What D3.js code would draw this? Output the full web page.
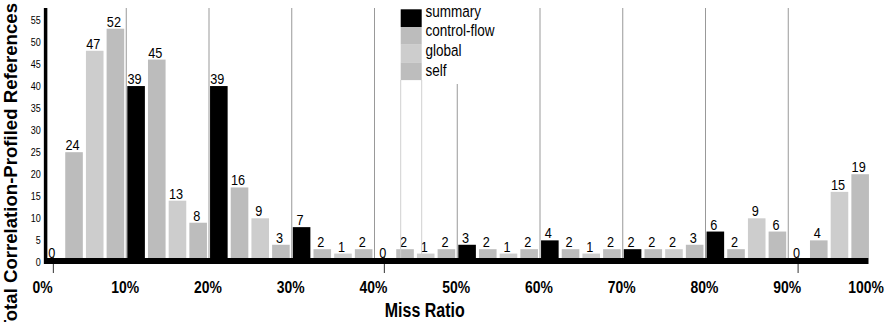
<!DOCTYPE html>
<html>
<head>
<meta charset="utf-8">
<script src="https://cdn.jsdelivr.net/npm/d3@7/dist/d3.min.js"></script>
<style>
    body { margin: 0; background: #fff; }
    svg { display: block; }
    text { font-family: "Liberation Sans", Arial, sans-serif; }
</style>
</head>
<body>
<div id="chart"></div>
<script>
// bins of miss ratio, one group of four bars each
var bins = ["0-10", "10-20", "20-30", "30-40", "40-50", "50-60", "60-70", "70-80", "80-90", "90-100"];
var series = ["summary", "control-flow", "global", "self"];
var colors = ["#000000", "#bcbcbc", "#cdcdcd", "#bdbdbd"];

var summary     = [0, 39, 39, 7, 0, 3, 4, 2, 6, 0];
var controlFlow = [24, 45, 16, 2, 2, 2, 2, 2, 2, 4];
var global      = [47, 13, 9, 1, 1, 1, 1, 2, 9, 15];
var self        = [52, 8, 3, 2, 2, 2, 2, 3, 6, 19];

var xTicks = [0, 10, 20, 30, 40, 50, 60, 70, 80, 90, 100];
var yTicks = [0, 5, 10, 15, 20, 25, 30, 35, 40, 45, 50, 55];

var width = 887, height = 322;
var narrow = 0.82; // no narrow font installed, squeeze Liberation Sans instead
var values = [summary, controlFlow, global, self];

var svg = d3.select("#chart").append("svg")
    .attr("width", width)
    .attr("height", height);

// place a squeezed text at x, y
function narrowAt(sel, fx, fy) {
    sel.attr("transform", (d, i) => "translate(" + fx(d, i) + "," + fy(d, i) + ") scale(" + narrow + ",1)");
}

// scales
var x0 = d3.scaleBand().domain(bins).range([43, 870.5]);
var x1 = d3.scaleBand().domain(series).range([0, x0.bandwidth()])
    .paddingInner(0.15).paddingOuter(0.075);
var xPct = d3.scaleLinear().domain([0, 100]).range([43, 870.5]);
var y = d3.scaleLinear().domain([0, 55]).range([258, 15.5]);

// group separators
svg.append("g").selectAll("line")
    .data(bins.slice(1))
    .enter().append("line")
    .attr("x1", (d) => x0(d) + 0.5)
    .attr("x2", (d) => x0(d) + 0.5)
    .attr("y1", 8)
    .attr("y2", 258)
    .attr("stroke", "#999")
    .attr("stroke-width", 1);

// bars
var rows = [];
bins.forEach((b, i) => {
    series.forEach((s, j) => {
        rows.push({ bin: b, key: s, value: values[j][i], color: colors[j] });
    });
});

var bars = svg.append("g");
bars.selectAll("rect")
    .data(rows)
    .enter().append("rect")
    .attr("x", (d) => x0(d.bin) + x1(d.key))
    .attr("y", (d) => y(d.value))
    .attr("width", x1.bandwidth())
    .attr("height", (d) => y(0) - y(d.value))
    .attr("fill", (d) => d.color);

// value labels
bars.selectAll("text")
    .data(rows)
    .enter().append("text")
    .attr("text-anchor", "middle")
    .attr("font-size", 15.5)
    .attr("fill", "#000")
    .text((d) => d.value)
    .call(narrowAt,
        (d) => x0(d.bin) + x1(d.key) + x1.bandwidth() / 2 - 1.5,
        (d) => d.value == 0 ? y(0) : y(d.value) - 2);

// little marks under empty bars
svg.append("g").selectAll("line")
    .data(rows.filter((d) => d.value == 0))
    .enter().append("line")
    .attr("x1", (d) => x0(d.bin) + x1(d.key) + x1.bandwidth() / 2)
    .attr("x2", (d) => x0(d.bin) + x1(d.key) + x1.bandwidth() / 2)
    .attr("y1", 256)
    .attr("y2", 273)
    .attr("stroke", "#333")
    .attr("stroke-width", 1);

// legend
var legend = svg.append("g");
legend.append("rect")
    .attr("x", 398).attr("y", 0)
    .attr("width", 64).attr("height", 84)
    .attr("fill", "#fff");
legend.selectAll("line")
    .data([400.7, 421.7])
    .enter().append("line")
    .attr("x1", (d) => d).attr("x2", (d) => d)
    .attr("y1", 80).attr("y2", 258)
    .attr("stroke", "#d0d0d0");
legend.selectAll("rect.sw")
    .data(series)
    .enter().append("rect")
    .attr("class", "sw")
    .attr("x", 400.7)
    .attr("y", (d, i) => 9.3 + i * 17.7)
    .attr("width", 21)
    .attr("height", 17.7)
    .attr("fill", (d, i) => colors[i]);
legend.selectAll("text")
    .data(series)
    .enter().append("text")
    .attr("font-size", 16.5)
    .text((d) => d)
    .call(narrowAt, () => 425.5, (d, i) => 16.7 + i * 19.6);

// y axis
var yAxis = svg.append("g")
    .attr("transform", "translate(45.6,0)")
    .call(d3.axisLeft(y).tickValues(yTicks).tickSize(0).tickPadding(0));
yAxis.select(".domain").remove();
yAxis.selectAll("text")
    .attr("font-size", 11)
    .attr("fill", "#000")
    .attr("x", null)
    .attr("dy", "0.32em")
    .attr("transform", "translate(-4.8,4) scale(" + narrow + ",1)");
svg.append("line")
    .attr("x1", 45.6).attr("x2", 45.6)
    .attr("y1", 8).attr("y2", 264)
    .attr("stroke", "#000").attr("stroke-width", 3.5);

// x axis
svg.append("line")
    .attr("x1", 44).attr("x2", xPct(100) - 2)
    .attr("y1", 261).attr("y2", 261)
    .attr("stroke", "#000").attr("stroke-width", 6);
var xAxis = svg.append("g")
    .attr("transform", "translate(0,264)")
    .call(d3.axisBottom(xPct).tickValues(xTicks).tickSize(0).tickPadding(0)
        .tickFormat((d) => d + "%"));
xAxis.select(".domain").remove();
xAxis.selectAll("text")
    .attr("font-size", 17)
    .attr("font-weight", "bold")
    .attr("fill", "#000")
    .attr("y", null)
    .attr("dy", null)
    .attr("transform", (d) => "translate(" + (d == 100 ? -5 : -1) + ",29) scale(" + narrow + ",1)");

// titles
svg.append("text")
    .attr("text-anchor", "middle")
    .attr("font-size", 19.5)
    .attr("font-weight", "bold")
    .text("Miss Ratio")
    .call(narrowAt, () => xPct(50) - 32, () => 316.5);

svg.append("text")
    .attr("transform", "translate(17.3,3) rotate(-90)")
    .attr("text-anchor", "end")
    .attr("font-size", 18.6)
    .attr("font-weight", "bold")
    .text("Total Correlation-Profiled References");
</script>
</body>
</html>
